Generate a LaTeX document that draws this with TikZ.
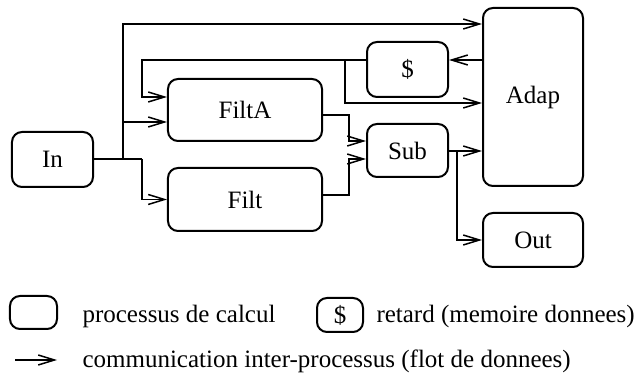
\documentclass[tikz,border=0pt]{standalone}
\usepackage{fontspec}
\setmainfont{Liberation Serif}
\usetikzlibrary{arrows.meta}
\begin{document}
\begin{tikzpicture}[x=0.4pt,y=-0.4pt,
  proc/.style={draw,line width=0.8pt,rounded corners=4pt,inner sep=0pt,font=\fontsize{10pt}{12pt}\selectfont},
  arr/.style={line width=0.6pt,-{Straight Barb[length=6.5pt,width=4pt,line width=0.6pt]}},
  wire/.style={line width=0.6pt},
  lbl/.style={anchor=base west,inner sep=0pt,font=\fontsize{10pt}{12pt}\selectfont}]
\useasboundingbox (0,0) rectangle (635,378);
% nodes
\node[proc,minimum width=32.4pt,minimum height=22pt] (In) at (52.5,159.5) {In};
\node[proc,minimum width=61.6pt,minimum height=24.8pt] (FiltA) at (245,110) {FiltA};
\node[proc,minimum width=61.6pt,minimum height=25.2pt] (Filt) at (245,199.5) {Filt};
\node[proc,minimum width=32.4pt,minimum height=22pt] (Del) at (407.5,69.5) {\$};
\node[proc,minimum width=32.4pt,minimum height=21.2pt] (Sub) at (407.5,150.5) {Sub};
\node[proc,minimum width=40pt,minimum height=71.2pt] (Adap) at (533,97) {Adap};
\node[proc,minimum width=40pt,minimum height=21.6pt] (Out) at (533,240) {Out};
% junctions
\coordinate (j1) at (123,159);
\coordinate (j2) at (142,159);
\coordinate (t1) at (123,24);
\coordinate (fa) at (123,122);
\coordinate (d1) at (142,60);
\coordinate (d2) at (142,97);
\coordinate (d3) at (345,60);
\coordinate (d4) at (345,103);
\coordinate (s1) at (349,115);
\coordinate (s2) at (349,141);
\coordinate (s3) at (349,195);
\coordinate (s4) at (349,159);
\coordinate (o1) at (457,151);
\coordinate (o2) at (457,240);
% connectors
\draw[wire] (In.east |- j1) -- (j2);
\draw[arr] (j1) -- (t1) -- (Adap.west |- t1);
\draw[arr] (fa) -- (FiltA.west |- fa);
\draw[arr] (j2) -- (j2 |- Filt.west) -- (Filt.west);
\draw[arr] (Del.west |- d1) -- (d1) -- (d2) -- (FiltA.west |- d2);
\draw[arr] (d3) -- (d4) -- (Adap.west |- d4);
\draw[arr] (Adap.west |- d1) -- (Del.east |- d1);
\draw[arr] (FiltA.east |- s1) -- (s1) -- (s2) -- (Sub.west |- s2);
\draw[arr] (Filt.east |- s3) -- (s3) -- (s4) -- (Sub.west |- s4);
\draw[arr] (Sub.east |- o1) -- (Adap.west |- o1);
\draw[arr] (o1) -- (o2) -- (Out.west |- o2);
% legend
\node[proc,minimum width=18.8pt,minimum height=13.2pt] (L1) at (33.5,312.5) {};
\node[lbl] (T1) at (82,323) {processus de calcul};
\node[proc,minimum width=18.4pt,minimum height=13.6pt] (L2) at (340,315) {\$};
\node[lbl] (T2) at (376,323) {retard (memoire donnees)};
\coordinate (a1) at (15,360);
\coordinate (a2) at (57,360);
\draw[arr] (a1) -- (a2);
\node[lbl] (T3) at (82,368) {communication inter-processus (flot de donnees)};
\end{tikzpicture}
\end{document}
